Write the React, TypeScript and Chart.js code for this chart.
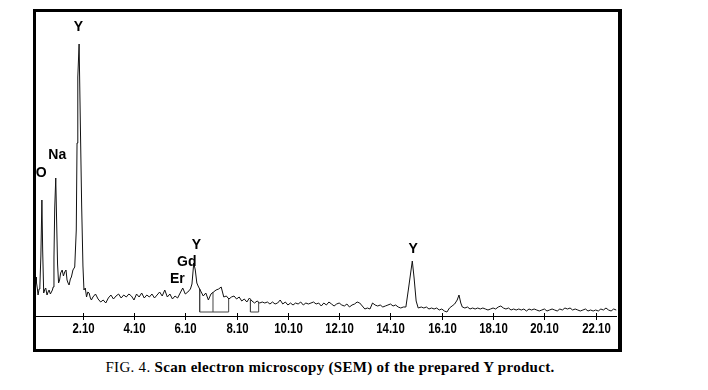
import React, { useEffect, useRef } from "react";
import { Chart, registerables } from "chart.js";
Chart.register(...registerables);

// ---- Spectrum data (energy in keV, counts) ----
const lowKeV = [0.28, 0.30, 0.33, 0.36, 0.40, 0.43, 0.47, 0.51, 0.54, 0.58, 0.63, 0.66, 0.71, 0.75, 0.79, 0.84, 0.88, 0.92, 0.95, 0.98, 1.01, 1.05, 1.08, 1.12, 1.16, 1.20, 1.24, 1.30, 1.35, 1.40, 1.45, 1.49, 1.53, 1.57, 1.62, 1.66, 1.72, 1.79, 1.85, 1.88, 1.91, 1.96, 2.01, 2.06, 2.11, 2.15, 2.20, 2.25, 2.30, 2.35, 2.40, 2.44];
const lowCounts = [39, 33, 28, 21, 27, 29, 60, 116, 66, 23, 27, 28, 21, 24, 26, 22, 24, 26, 29, 58, 108, 138, 100, 52, 33, 36, 43, 46, 40, 44, 46, 36, 33, 31, 37, 39, 46, 49, 86, 173, 239, 272, 190, 110, 50, 26, 28, 19, 24, 23, 18, 16];

// channels every 0.1 keV from 2.5 to 6.3
const bandB = { start: 2.5, step: 0.1 };
const countsB = [19, 22, 17, 14, 16, 13, 18, 21, 17, 20, 22, 18, 21, 19, 22, 20, 16, 22, 19, 23, 18, 21, 19, 22, 18, 21, 24, 20, 26, 19, 22, 17, 20, 18, 23, 28, 22, 24, 27];

const peakLKeV = [6.36, 6.43, 6.49, 6.55];
const peakLCounts = [32, 53, 46, 33];

// channels every 0.1 keV from 6.6 to 14.7
const bandD = { start: 6.6, step: 0.1 };
const countsD = [30, 25, 20, 23, 16, 22, 24, 26, 27, 29, 19, 20, 17, 19, 20, 17, 19, 15, 17, 14, 18, 15, 13, 15, 13, 14, 13, 14, 12, 14, 12, 13, 16, 12, 14, 11, 13, 11, 13, 12, 14, 11, 13, 12, 13, 14, 12, 13, 10, 13, 11, 14, 12, 10, 12, 13, 11, 10, 12, 9, 11, 12, 14, 13, 10, 7, 8, 7, 13, 11, 10, 11, 9, 10, 11, 12, 10, 11, 9, 8, 9, 9];

const peakKKeV = [14.80, 14.88, 14.95, 15.02, 15.10, 15.18];
const peakKCounts = [27, 42, 55, 38, 15, 8];

// channels every 0.1 keV from 15.3 to 16.7
const bandF = { start: 15.3, step: 0.1 };
const countsF = [9, 8, 9, 7, 8, 7, 8, 6, 7, 5, 4, 8, 10, 12, 16];

const smallPeakKeV = [16.77, 16.84];
const smallPeakCounts = [21, 13];

// channels every 0.1 keV from 16.9 to 22.9
const bandH = { start: 16.9, step: 0.1 };
const countsH = [9, 8, 9, 7, 8, 7, 8, 7, 8, 7, 6, 7, 8, 7, 9, 10, 8, 7, 8, 6, 7, 6, 7, 6, 7, 5, 7, 6, 7, 6, 5, 6, 7, 5, 6, 7, 6, 5, 7, 6, 8, 7, 8, 6, 7, 6, 5, 6, 7, 5, 6, 5, 6, 5, 7, 6, 8, 6, 5, 7, 6];

// Region-of-interest marker boxes (null = break)
const markerKeV = [6.66, 6.66, 7.79, 7.79, 7.5, 7.18, 7.18, 8.0, 8.64, 8.64, 8.96, 8.96];
const markerCounts = [27, 4, 4, 17, null, 4, 24, null, 16, 4, 4, 14];

// Axis
const axisMinKeV = 0.28;
const axisMaxKeV = 22.93;
const countsMax = 304;
const tickValues = [2.1, 4.1, 6.1, 8.1, 10.1, 12.1, 14.1, 16.1, 18.1, 20.1, 22.1];
const tickLabels = ["2.10", "4.10", "6.10", "8.10", "10.10", "12.10", "14.10", "16.10", "18.10", "20.10", "22.10"];

// Peak labels
const peakLabelText = ["O", "Na", "Y", "Er", "Gd", "Y", "Y"];
const peakLabelKeV = [0.48, 1.11, 1.93, 5.79, 6.16, 6.53, 14.98];
const peakLabelCounts = [142.5, 161, 289, 36.5, 53.5, 71, 67];

const caption = "FIG. 4.";
const captionBold = "Scan electron microscopy (SEM) of the prepared Y product.";

function band(b: { start: number; step: number }, counts: number[]) {
  return counts.map((c, i) => ({ x: +(b.start + i * b.step).toFixed(2), y: c }));
}
function pairs(k: number[], c: (number | null)[]) {
  return k.map((v, i) => ({ x: v, y: c[i] }));
}

const spectrum = [
  ...pairs(lowKeV, lowCounts),
  ...band(bandB, countsB),
  ...pairs(peakLKeV, peakLCounts),
  ...band(bandD, countsD),
  ...pairs(peakKKeV, peakKCounts),
  ...band(bandF, countsF),
  ...pairs(smallPeakKeV, smallPeakCounts),
  ...band(bandH, countsH),
].sort((a, b) => a.x - b.x);

const decorPlugin = {
  id: "decor",
  afterDraw(chart: any) {
    const { ctx, chartArea } = chart;
    const xs = chart.scales.x;
    const ys = chart.scales.y;
    ctx.save();
    ctx.fillStyle = "#000";
    // frame
    const fl = chartArea.left - 3;
    const ft = chartArea.top - 3;
    const fr = chartArea.right + 5;
    const fb = chartArea.bottom + 36;
    ctx.fillRect(fl, ft, fr - fl, 3);
    ctx.fillRect(fl, ft, 3, fb - ft);
    ctx.fillRect(fr - 4, ft, 4, fb - ft);
    ctx.fillRect(fl, fb - 3, fr - fl, 3);
    // axis line
    const ay = Math.round(ys.getPixelForValue(0));
    ctx.fillRect(chartArea.left, ay, chartArea.right - chartArea.left, 1);
    // ticks + labels
    ctx.font = "bold 15px 'Liberation Sans', Arial, sans-serif";
    ctx.textAlign = "center";
    ctx.textBaseline = "middle";
    tickValues.forEach((v, i) => {
      const px = Math.round(xs.getPixelForValue(v));
      ctx.fillRect(px, ay - 3, 1, 7);
      ctx.save();
      ctx.translate(px + 0.5, ay + 13);
      ctx.scale(0.76, 1);
      ctx.fillText(tickLabels[i], 0, 0);
      ctx.restore();
    });
    // peak labels
    ctx.font = "bold 14px 'Liberation Sans', Arial, sans-serif";
    peakLabelText.forEach((t, i) => {
      ctx.fillText(t, xs.getPixelForValue(peakLabelKeV[i]), ys.getPixelForValue(peakLabelCounts[i]));
    });
    ctx.restore();
  },
};

export default function App() {
  const ref = useRef<HTMLCanvasElement>(null);
  useEffect(() => {
    if (!ref.current) return;
    const chart = new Chart(ref.current, {
      type: "line",
      data: {
        datasets: [
          {
            data: spectrum,
            borderColor: "#111",
            borderWidth: 1,
            pointRadius: 0,
            tension: 0,
            fill: false,
          },
          {
            data: pairs(markerKeV, markerCounts),
            borderColor: "#444",
            borderWidth: 1,
            pointRadius: 0,
            tension: 0,
            spanGaps: false,
            fill: false,
          },
        ],
      },
      options: {
        animation: false,
        responsive: false,
        devicePixelRatio: 1,
        layout: { padding: { left: 36, right: 91, top: 12, bottom: 0 } },
        plugins: { legend: { display: false }, tooltip: { enabled: false } },
        scales: {
          x: {
            type: "linear",
            min: axisMinKeV,
            max: axisMaxKeV,
            grid: { display: false },
            border: { display: false },
            ticks: { display: false },
            afterFit: (s: any) => {
              s.height = 36;
            },
          },
          y: {
            display: false,
            min: 0,
            max: countsMax,
          },
        },
      },
      plugins: [decorPlugin],
    } as any);
    return () => chart.destroy();
  }, []);

  return (
    <div style={{ position: "absolute", left: 0, top: 0, width: 708, height: 390, background: "#fff" }}>
      <canvas ref={ref} width={708} height={352} style={{ display: "block" }} />
      <div
        style={{
          position: "absolute",
          left: 0,
          top: 359,
          width: 660,
          textAlign: "center",
          fontFamily: "'Liberation Serif', 'Times New Roman', serif",
          fontSize: 15,
          letterSpacing: "0.3px",
          lineHeight: "16px",
          color: "#000",
        }}
      >
        {caption} <b>{captionBold}</b>
      </div>
    </div>
  );
}
